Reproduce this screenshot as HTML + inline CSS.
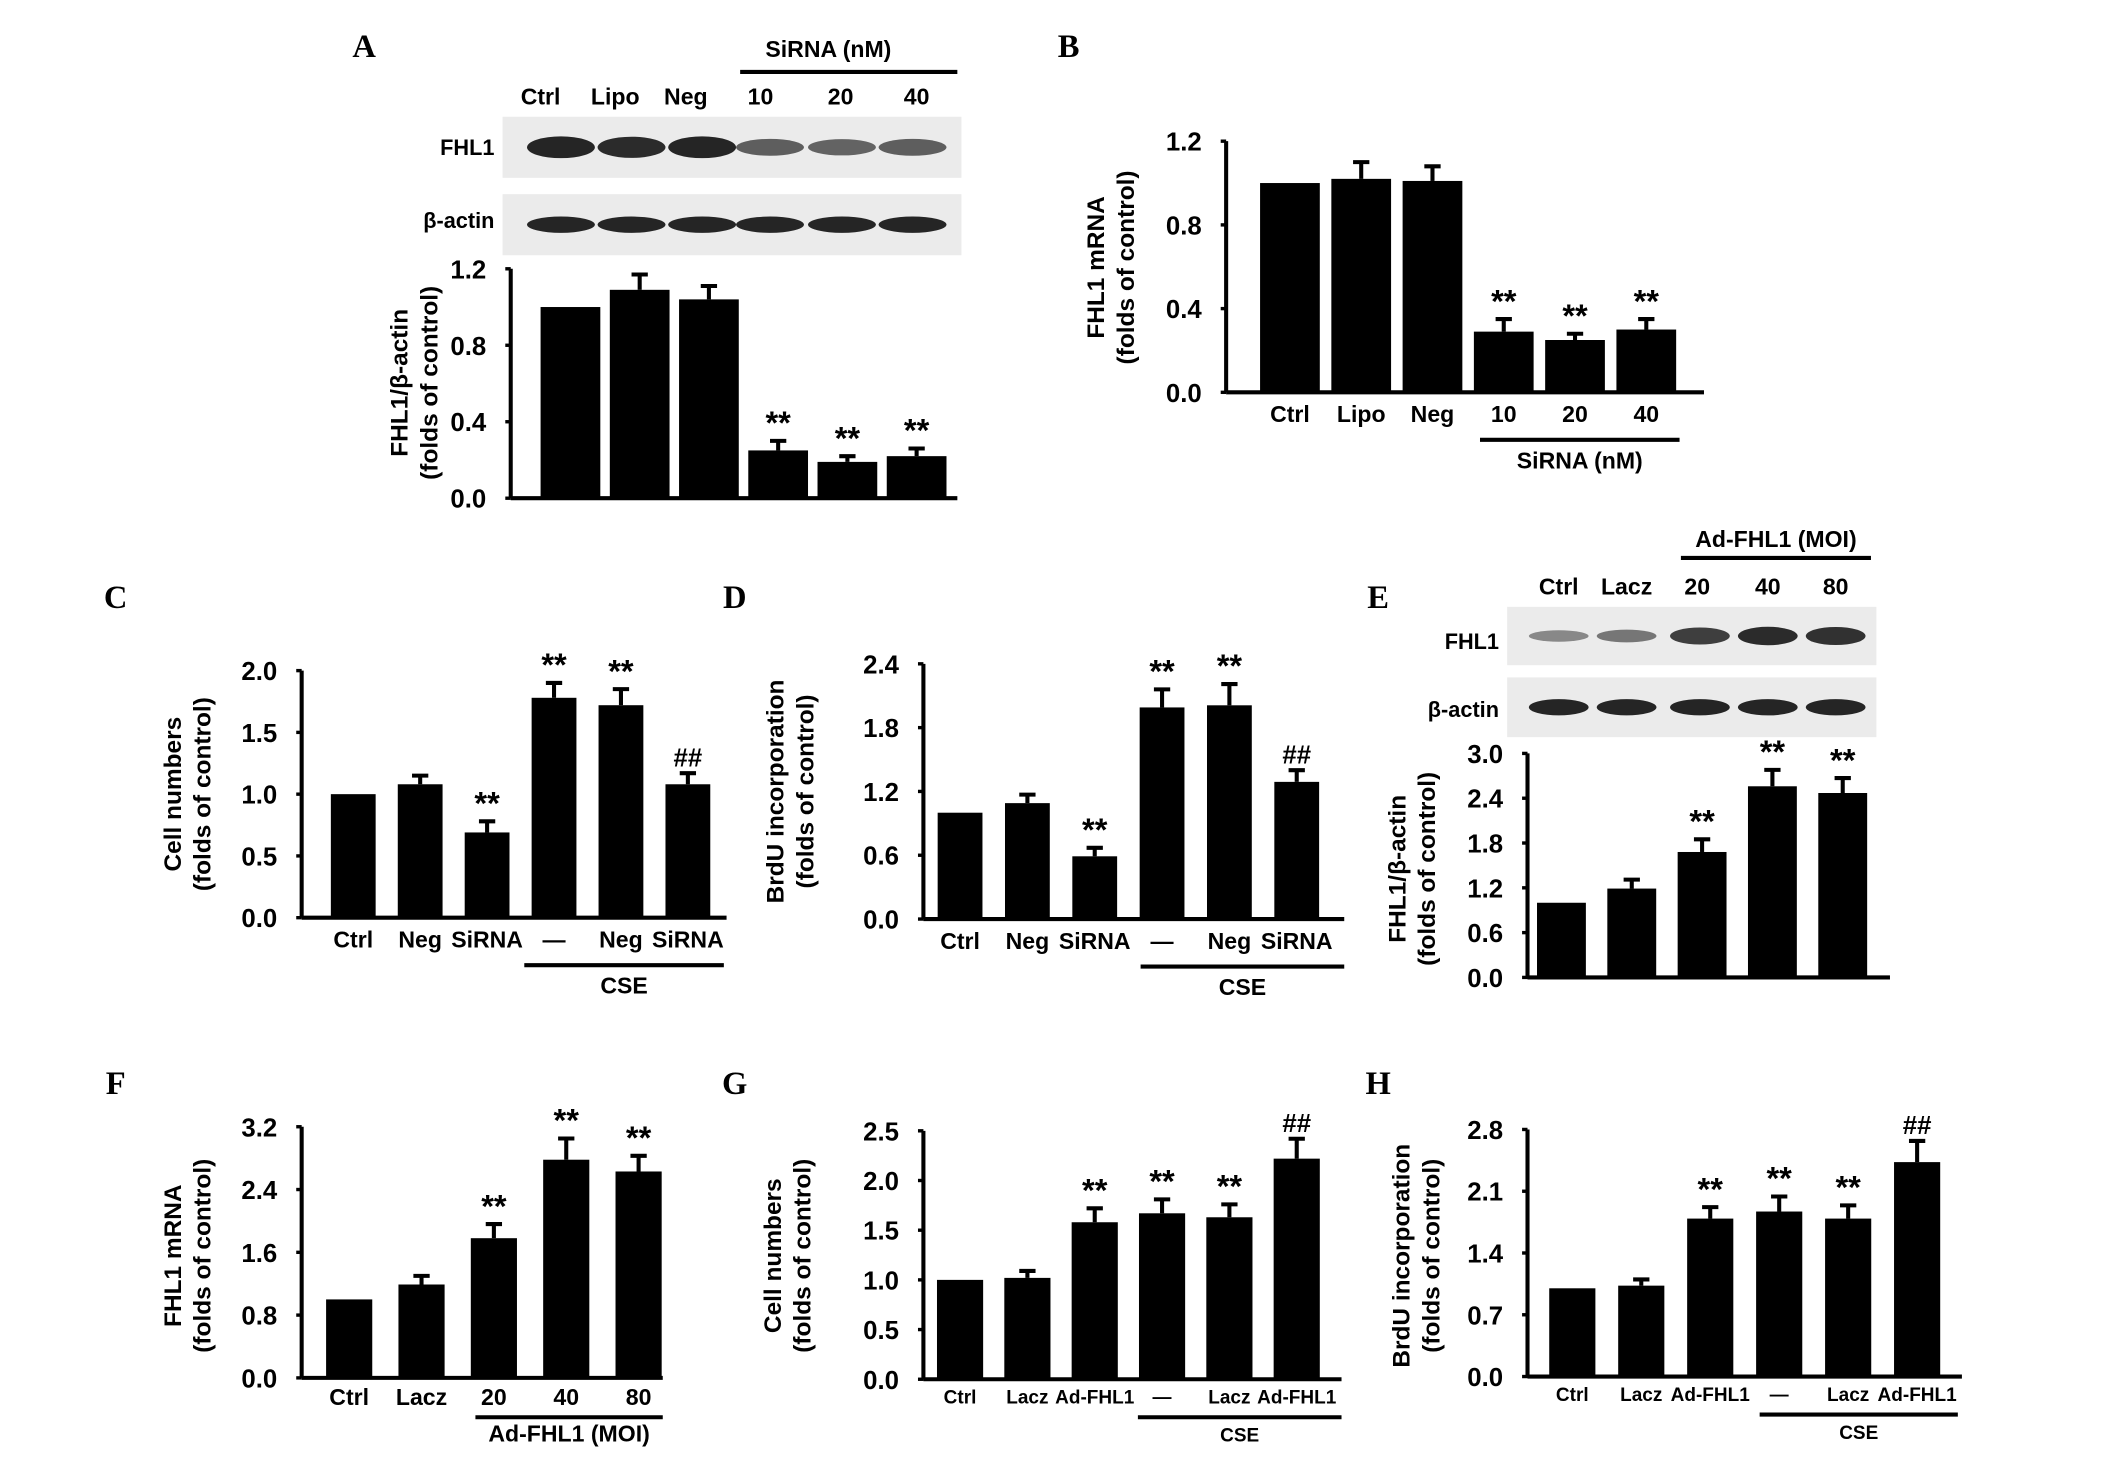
<!DOCTYPE html>
<html><head><meta charset="utf-8"><style>
html,body{margin:0;padding:0;background:#fff}
svg{display:block}
text{font-family:"Liberation Sans",Arial,sans-serif;font-weight:bold;fill:#000}
.pl{font-family:"Liberation Serif",serif;font-size:24px}
</style></head><body>
<svg width="2126" height="1459" viewBox="0 0 1550 1064" xmlns="http://www.w3.org/2000/svg"><g id="fig" transform="scale(0.99)"></g></svg>
<script>
// ---- data ----
const catsA=["","","","","",""];
const valsA=[1.0,1.09,1.04,0.25,0.19,0.22];
const errA=[0,0.08,0.07,0.05,0.03,0.04];
const ticksA=[0,0.4,0.8,1.2];
const sigA=["","","","**","**","**"];
const catsB=["Ctrl","Lipo","Neg","10","20","40"];
const valsB=[1.0,1.02,1.01,0.29,0.25,0.30];
const errB=[0,0.08,0.07,0.06,0.03,0.05];
const ticksB=[0,0.4,0.8,1.2];
const sigB=["","","","**","**","**"];
const catsC=["Ctrl","Neg","SiRNA","—","Neg","SiRNA"];
const valsC=[1.0,1.08,0.69,1.78,1.72,1.08];
const errC=[0,0.07,0.09,0.12,0.13,0.09];
const ticksC=[0,0.5,1.0,1.5,2.0];
const sigC=["","","**","**","**","##"];
const catsD=["Ctrl","Neg","SiRNA","—","Neg","SiRNA"];
const valsD=[1.0,1.09,0.59,1.99,2.01,1.29];
const errD=[0,0.08,0.08,0.17,0.2,0.11];
const ticksD=[0,0.6,1.2,1.8,2.4];
const sigD=["","","**","**","**","##"];
const catsE=["","","","",""];
const valsE=[1.0,1.19,1.68,2.56,2.47];
const errE=[0,0.12,0.17,0.22,0.2];
const ticksE=[0,0.6,1.2,1.8,2.4,3.0];
const sigE=["","","**","**","**"];
const catsF=["Ctrl","Lacz","20","40","80"];
const valsF=[1.0,1.19,1.78,2.78,2.63];
const errF=[0,0.11,0.18,0.27,0.2];
const ticksF=[0,0.8,1.6,2.4,3.2];
const sigF=["","","**","**","**"];
const catsG=["Ctrl","Lacz","Ad-FHL1","—","Lacz","Ad-FHL1"];
const valsG=[1.0,1.02,1.58,1.67,1.63,2.22];
const errG=[0,0.07,0.14,0.14,0.13,0.2];
const ticksG=[0,0.5,1.0,1.5,2.0,2.5];
const sigG=["","","**","**","**","##"];
const catsH=["Ctrl","Lacz","Ad-FHL1","—","Lacz","Ad-FHL1"];
const valsH=[1.0,1.03,1.79,1.87,1.79,2.43];
const errH=[0,0.07,0.13,0.17,0.15,0.24];
const ticksH=[0,0.7,1.4,2.1,2.8];
const sigH=["","","**","**","**","##"];

const NS="http://www.w3.org/2000/svg";
const svg=document.getElementById('fig');
function mk(tag,at,parent){const e=document.createElementNS(NS,tag);for(const k in at)e.setAttribute(k,at[k]);(parent||svg).appendChild(e);return e;}
function txt(s,x,y,size,anchor,parent,rot){const e=mk('text',{x:x,y:y,'font-size':size,'text-anchor':anchor||'middle'},parent);if(rot)e.setAttribute('transform',`rotate(-90 ${x} ${y})`);e.textContent=s;return e;}

function chart(id,o){
  const g=mk('g',{});
  
  
  const max=o.ticks[o.ticks.length-1];
  const y=v=>o.y0-(v/max)*(o.y0-o.y1);
  const x=i=>o.x0+o.first+i*o.step;
  const ax=mk('line',{x1:o.ax,y1:o.y1,x2:o.ax,y2:o.y0,stroke:'#000','stroke-width':3},g);
  
  
  const xa=mk('line',{x1:o.ax,y1:o.y0,x2:o.xe,y2:o.y0,stroke:'#000','stroke-width':3},g);
  
  
  o.ticks.forEach(t=>{
    mk('line',{x1:o.ax-4,y1:y(t),x2:o.ax,y2:y(t),stroke:'#000','stroke-width':2.5},g);
    const tl=txt(t.toFixed(1),o.ax-18,y(t)+7,19,'end',g);
    
    
  });
  const ly=o.ly||22, gl1=o.gl||35, gt1=o.gt||56;
  o.vals.forEach((v,i)=>{
    const cx=x(i);
    const b=mk('rect',{x:cx-o.bw/2,y:y(v),width:o.bw,height:o.y0-y(v),fill:'#000'},g);
    
    
    if(o.err[i]>0){
      const ye=y(v+o.err[i]);
      mk('line',{x1:cx,y1:y(v),x2:cx,y2:ye,stroke:'#000','stroke-width':3},g);
      mk('line',{x1:cx-6,y1:ye,x2:cx+6,y2:ye,stroke:'#000','stroke-width':3},g);
    }
    if(o.sig[i]){
      const s=txt(o.sig[i],cx,y(v+o.err[i])-5,o.sig[i]=='##'?19:24,'middle',g);
      
      
    }
    if(o.cats[i]){
      const l=txt(o.cats[i],cx,o.y0+ly,o.lf||17,'middle',g);
      
      
    }
  });
  o.title.forEach((t,k)=>{
    const tt=txt(t,o.tx+k*22,o.ty,18,'middle',g,true);
    
    
  });
  if(o.group){
    const gl=mk('line',{x1:o.group[0],y1:o.y0+gl1,x2:o.group[1],y2:o.y0+gl1,stroke:'#000','stroke-width':3},g);
    
    
    const gt=txt(o.group[2],(o.group[0]+o.group[1])/2,o.y0+gt1,o.group[3]||17,'middle',g);
    
    
  }
}
function panel(l,x,y){const t=txt(l,x,y,24,'middle');t.setAttribute('class','pl');

}

function blot(name,x0,y0,w,h,centers,ints,bw,bh){
  const g=mk('g',{});
  
  
  mk('rect',{x:x0,y:y0,width:w,height:h,fill:'#ebebeb'},g);
  centers.forEach((c,i)=>{mk('ellipse',{cx:c,cy:y0+h/2,rx:bw,ry:bh*(0.5+0.5*ints[i]),fill:'#1a1a1a',opacity:0.35+0.6*ints[i]},g);});
}

// Panel A
panel('A',268,42);
txt('SiRNA (nM)',610,42,17);
mk('line',{x1:545,y1:53,x2:705,y2:53,stroke:'#000','stroke-width':3});
[['Ctrl',398],['Lipo',453],['Neg',505],['10',560],['20',619],['40',675]].forEach(a=>txt(a[0],a[1],77,17));
blot('fhl1-blot-a',370,86,338,45,[413,465,517,567,620,672],[1,0.95,1,0.55,0.5,0.55],25,8);
blot('actin-blot-a',370,143,338,45,[413,465,517,567,620,672],[1,1,1,1,1,1],25,6);
txt('FHL1',364,114,16,'end');txt('β-actin',364,168,16,'end');
chart('a',{ax:376,xe:705,y0:367,y1:198,x0:376,first:44,step:51,bw:44,ticks:ticksA,vals:valsA,err:errA,sig:sigA,cats:catsA,title:['FHL1/β-actin','(folds of control)'],tx:300,ty:282});

// Panel B
panel('B',787,42);
chart('b',{ax:903,xe:1255,y0:289,y1:104,x0:903,first:47,step:52.5,bw:44,ticks:ticksB,vals:valsB,err:errB,sig:sigB,cats:catsB,title:['FHL1 mRNA','(folds of control)'],tx:813,ty:197,group:[1090,1237,'SiRNA (nM)']});

// Panel C
panel('C',85,448);
chart('c',{ax:222,xe:535,y0:676,y1:494,x0:222,first:38,step:49.3,bw:33,ticks:ticksC,vals:valsC,err:errC,sig:sigC,cats:catsC,title:['Cell numbers','(folds of control)'],tx:133,ty:585,group:[386,533,'CSE']});

// Panel D
panel('D',541,448);
chart('d',{ax:680,xe:990,y0:677,y1:489,x0:680,first:27,step:49.6,bw:33,ticks:ticksD,vals:valsD,err:errD,sig:sigD,cats:catsD,title:['BrdU incorporation','(folds of control)'],tx:577,ty:583,group:[840,990,'CSE']});

// Panel E
panel('E',1015,448);
txt('Ad-FHL1 (MOI)',1308,403,17);
mk('line',{x1:1238,y1:411,x2:1378,y2:411,stroke:'#000','stroke-width':3});
[['Ctrl',1148],['Lacz',1198],['20',1250],['40',1302],['80',1352]].forEach(a=>txt(a[0],a[1],438,17));
blot('fhl1-blot-e',1110,447,272,43,[1148,1198,1252,1302,1352],[0.2,0.35,0.8,0.95,0.9],22,7);
blot('actin-blot-e',1110,499,272,44,[1148,1198,1252,1302,1352],[1,1,1,1,1],22,6);
txt('FHL1',1104,478,16,'end');txt('β-actin',1104,528,16,'end');
chart('e',{ax:1125,xe:1392,y0:720,y1:555,x0:1125,first:25,step:51.8,bw:36,ticks:ticksE,vals:valsE,err:errE,sig:sigE,cats:catsE,title:['FHL1/β-actin','(folds of control)'],tx:1035,ty:640});

// Panel F
panel('F',85,806);
chart('f',{ax:222,xe:488,y0:1015,y1:830,x0:222,first:35,step:53.3,bw:34,ticks:ticksF,vals:valsF,err:errF,sig:sigF,cats:catsF,ly:20,gl:29,gt:47,title:['FHL1 mRNA','(folds of control)'],tx:133,ty:925,group:[350,488,'Ad-FHL1 (MOI)']});

// Panel G
panel('G',541,806);
chart('g',{ax:680,xe:988,y0:1016,y1:833,x0:680,first:27,step:49.6,bw:34,ticks:ticksG,vals:valsG,err:errG,sig:sigG,cats:catsG,lf:14,ly:18,gl:28,gt:46,title:['Cell numbers','(folds of control)'],tx:575,ty:925,group:[838,988,'CSE',14]});

// Panel H
panel('H',1015,806);
chart('h',{ax:1125,xe:1445,y0:1014,y1:832,x0:1125,first:33,step:50.8,bw:34,ticks:ticksH,vals:valsH,err:errH,sig:sigH,cats:catsH,lf:14,ly:18,gl:28,gt:46,title:['BrdU incorporation','(folds of control)'],tx:1038,ty:925,group:[1296,1442,'CSE',14]});
</script>
</body></html>
